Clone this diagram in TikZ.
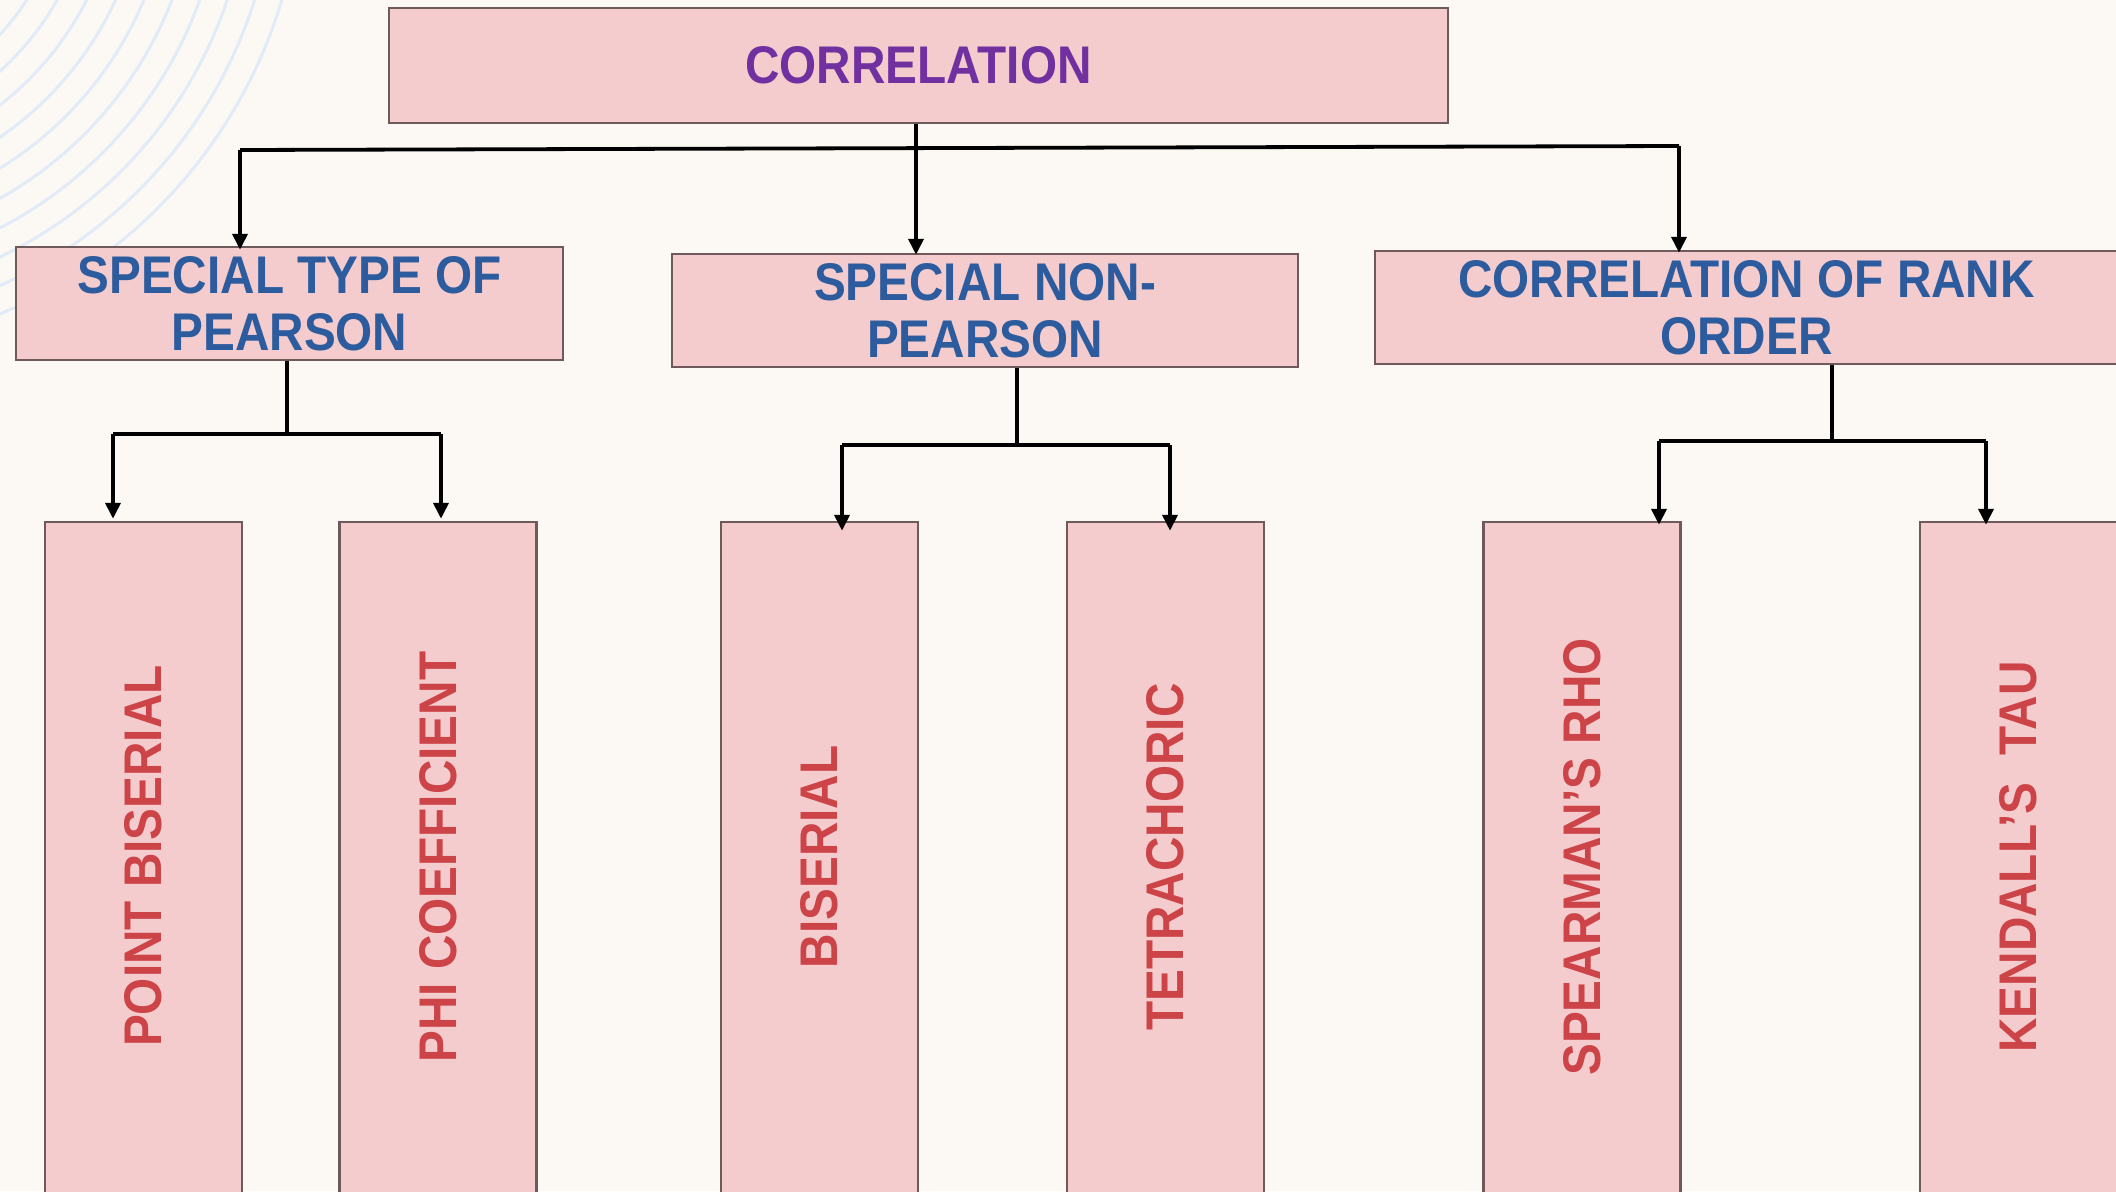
\documentclass[tikz,border=0pt]{standalone}
\usepackage{fontspec}
\usetikzlibrary{arrows.meta}
\newfontfamily\chartfont{Liberation Sans}[FakeStretch=0.9]
\definecolor{bgcream}{HTML}{FCF9F4}
\definecolor{boxfill}{HTML}{F4CCCE}
\definecolor{boxedge}{HTML}{6E5A5A}
\definecolor{titlepurple}{HTML}{7030A0}
\definecolor{headblue}{HTML}{2C5B9E}
\definecolor{leafred}{HTML}{CC4448}
\definecolor{ringblue}{HTML}{E2EBF8}
\tikzset{
  box/.style={draw=boxedge, fill=boxfill, line width=2.5pt, inner sep=0pt, align=center},
  headtext/.style={box, text=headblue, font=\chartfont\bfseries\fontsize{53}{57}\selectfont},
  leafbox/.style={box, minimum width=197pt, minimum height=680pt},
  leaftext/.style={rotate=90, text=leafred, inner sep=0pt, font=\chartfont\bfseries\fontsize{53}{57}\selectfont},
  link/.style={draw=black, line width=3.8pt},
  arr/.style={link, -{Triangle[length=16pt,width=15pt]}},
  ring/.style={draw=ringblue, line width=3pt}
}
\begin{document}
\begin{tikzpicture}[x=1pt,y=-1pt]
\useasboundingbox (0,0) rectangle (2116,1191);
\clip (0,0) rectangle (2116,1191);
\fill[bgcream] (0,0) rectangle (2116,1191);

% decorative rings in the upper left corner
\foreach \r in {258,284,...,492}
  \draw[ring] (-190,-140) circle[radius=\r pt];

% root
\node[box, minimum width=1059pt, minimum height=115pt, text=titlepurple,
      font=\chartfont\bfseries\fontsize{53}{57}\selectfont] (corr) at (918.5,65.5) {CORRELATION};

% second level
\node[headtext, minimum width=547pt, minimum height=113pt] (stp) at (289.5,303.5) {SPECIAL TYPE OF\\PEARSON};
\node[headtext, minimum width=626pt, minimum height=113pt] (snp) at (985,310.5) {SPECIAL NON-\\PEARSON};
\node[headtext, minimum width=743pt, minimum height=113pt] (cro) at (1746.5,307.5) {CORRELATION OF RANK\\ORDER};

% leaves
\node[leafbox] (pb)  at (143.5,862) {};
\node[leafbox] (phi) at (438,862) {};
\node[leafbox] (bis) at (819.5,862) {};
\node[leafbox] (tet) at (1165.5,862) {};
\node[leafbox] (spr) at (1582,862) {};
\node[leafbox] (ken) at (2018.5,862) {};
\node[leaftext] (pbt)  at (143.5,856) {POINT BISERIAL};
\node[leaftext] (phit) at (438,857) {PHI COEFFICIENT};
\node[leaftext] (bist) at (819.5,857) {BISERIAL};
\node[leaftext] (tett) at (1165.5,857) {TETRACHORIC};
\node[leaftext] (sprt) at (1582,857) {SPEARMAN’S RHO};
\node[leaftext] (kent) at (2018.5,857) {KENDALL’S\ \ TAU};

% first split
\coordinate (barL) at (240,150);
\coordinate (barM) at (916,148);
\coordinate (barR) at (1679,146);
\draw[link] (barL) -- (barR);
\draw[arr] (barM |- corr.south) -- ([yshift=-2pt]barM |- snp.north);
\draw[arr] (barL) -- ([yshift=-4pt]barL |- stp.north);
\draw[arr] (barR) -- ([yshift=-3pt]barR |- cro.north);

% left split
\coordinate (lgM) at (287,434);
\coordinate (lgL) at (113,434);
\coordinate (lgR) at (441,434);
\draw[link] (lgM |- stp.south) -- (lgM);
\draw[link] (lgL) -- (lgR);
\draw[arr] (lgL) -- ([yshift=2pt]lgL |- pb.north);
\draw[arr] (lgR) -- ([yshift=2pt]lgR |- phi.north);

% middle split
\coordinate (mgM) at (1017,445);
\coordinate (mgL) at (842,445);
\coordinate (mgR) at (1170,445);
\draw[link] (mgM |- snp.south) -- (mgM);
\draw[link] (mgL) -- (mgR);
\draw[arr] (mgL) -- ([yshift=-10pt]mgL |- bis.north);
\draw[arr] (mgR) -- ([yshift=-10pt]mgR |- tet.north);

% right split
\coordinate (rgM) at (1832,441);
\coordinate (rgL) at (1659,441);
\coordinate (rgR) at (1986,441);
\draw[link] (rgM |- cro.south) -- (rgM);
\draw[link] (rgL) -- (rgR);
\draw[arr] (rgL) -- ([yshift=-4pt]rgL |- spr.north);
\draw[arr] (rgR) -- ([yshift=-4pt]rgR |- ken.north);
\end{tikzpicture}
\end{document}
